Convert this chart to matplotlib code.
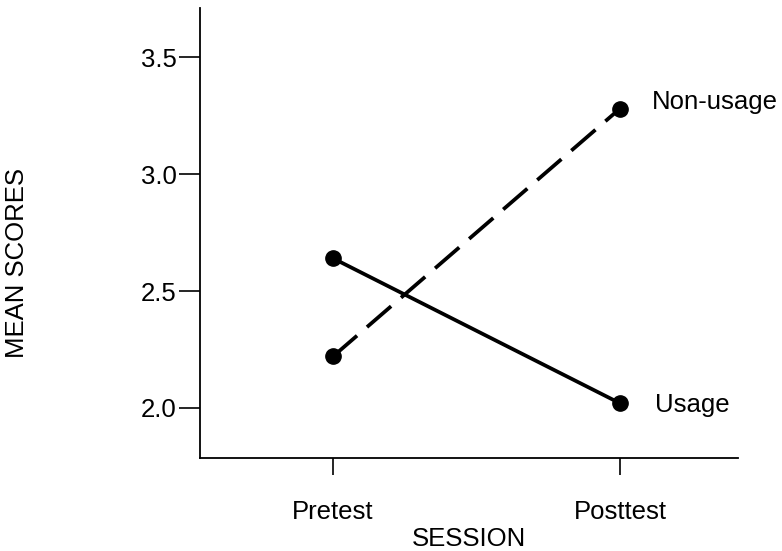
import matplotlib
matplotlib.use("Agg")
import matplotlib.pyplot as plt

sessions = ["Pretest", "Posttest"]
usage = [2.64, 2.02]
non_usage = [2.22, 3.28]
yticks = [2.0, 2.5, 3.0, 3.5]

plt.rcParams['font.family'] = ['Liberation Sans', 'DejaVu Sans']
FS = 18.5

fig = plt.figure(figsize=(7.82, 5.51), dpi=100)
ax = fig.add_axes([200/782, 1-458/551, 538/782, 450/551])

x = list(range(len(sessions)))
ax.plot(x, usage, color='black', lw=2.7, marker='o', ms=11, solid_capstyle='round')
ax.plot(x, non_usage, color='black', lw=2.7, marker='o', ms=11, dashes=(8.5, 3.5))

ax.annotate("Non-usage", (x[1], non_usage[1]), xytext=(23, 5), textcoords='offset points',
            fontsize=FS, va='center', ha='left')
ax.annotate("Usage", (x[1], usage[1]), xytext=(25, -1), textcoords='offset points',
            fontsize=FS, va='center', ha='left')

ax.set_xlim(-0.463, 1.411)
ax.set_ylim(1.786, 3.71)
ax.set_xticks(x)
ax.set_xticklabels(sessions)
ax.set_yticks(yticks)
ax.set_yticklabels([f"{v:.1f}" for v in yticks])
ax.tick_params(axis='both', labelsize=FS, width=1.2, direction='out')
ax.tick_params(axis='y', length=15, pad=2)
ax.tick_params(axis='x', length=12.5, pad=18)
for s in ['top', 'right']:
    ax.spines[s].set_visible(False)
for s in ['left', 'bottom']:
    ax.spines[s].set_linewidth(1.3)

ax.set_xlabel("SESSION", fontsize=FS, labelpad=2)
fig.text(17/782, 1-263/551, "MEAN SCORES", rotation=90, fontsize=FS, ha='center', va='center')

fig.savefig("out.png", dpi=100)
